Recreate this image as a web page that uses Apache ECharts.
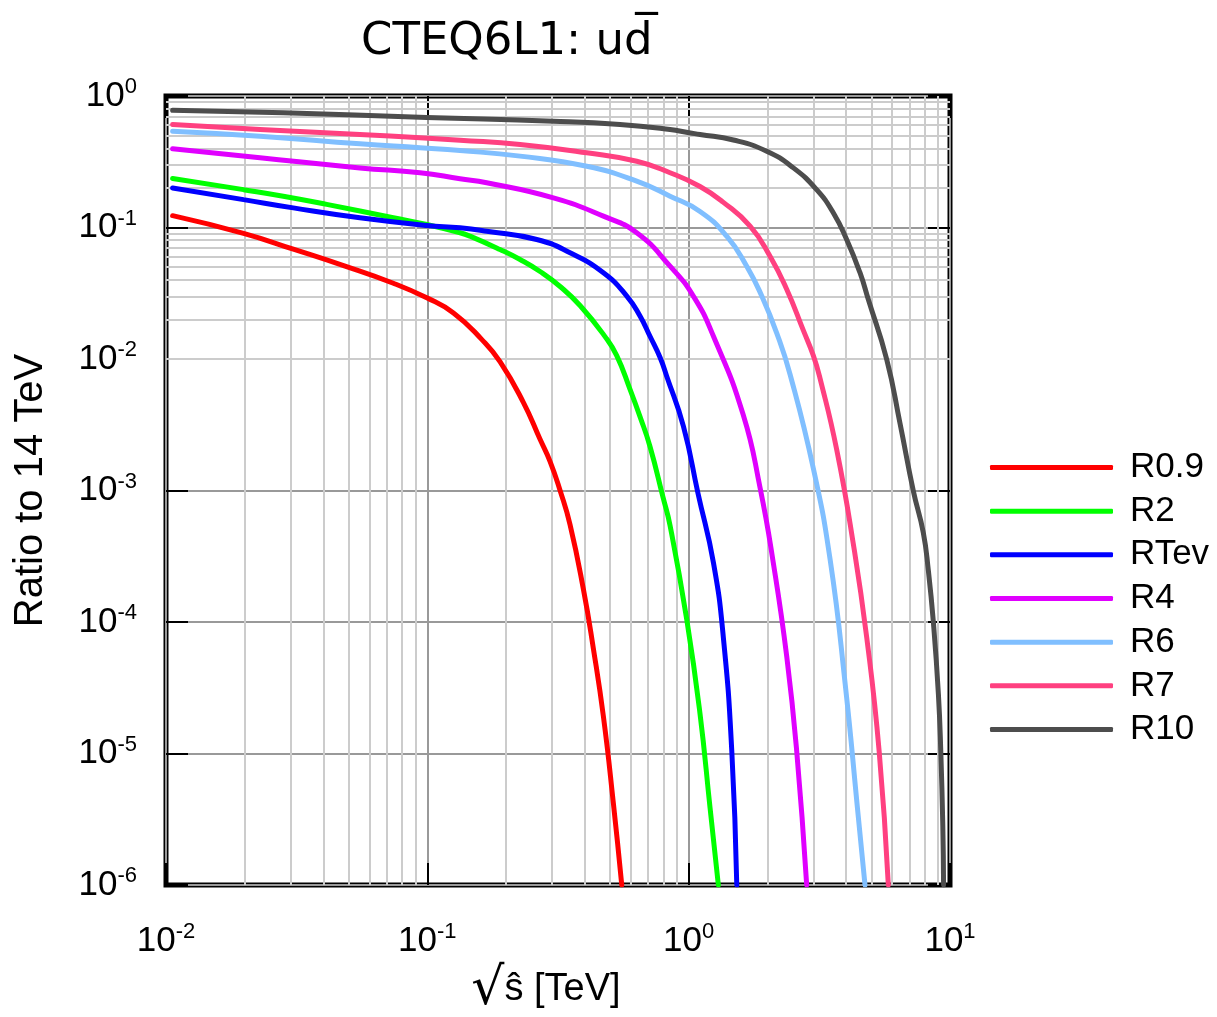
<!DOCTYPE html>
<html><head><meta charset="utf-8">
<script src="https://cdn.jsdelivr.net/npm/echarts@6/dist/echarts.min.js"></script>
<style>html,body{margin:0;padding:0;background:#fff}#c{width:1217px;height:1017px}</style>
</head><body><div id="c"></div>
<script>
// ---- data (x = sqrt(s-hat) in TeV, y = ratio to 14 TeV) ----
const seriesNames = ['R0.9', 'R2', 'RTev', 'R4', 'R6', 'R7', 'R10'];
const seriesColors = ['#ff0000', '#00ff00', '#0000ff', '#e000ff', '#80bfff', '#ff4080', '#4d4d4d'];

const xR09 = [0.0106, 0.0198, 0.0307, 0.0478, 0.0741, 0.0995, 0.1259, 0.1614, 0.1897, 0.233, 0.270, 0.295, 0.3221, 0.3516, 0.3954, 0.4317, 0.4718, 0.5152, 0.5546];
const yR09 = [0.123, 0.0902, 0.0684, 0.0513, 0.0377, 0.0292, 0.0224, 0.0141, 0.00955, 0.00468, 0.00245, 0.00166, 0.001, 0.00055, 0.000178, 6.31e-5, 1.91e-5, 4.17e-6, 1.0e-6];

const xR2 = [0.0106, 0.0198, 0.0281, 0.0412, 0.0741, 0.0995, 0.1334, 0.1456, 0.1897, 0.2264, 0.270, 0.3221, 0.384, 0.4787, 0.5306, 0.597, 0.6513, 0.7112, 0.798, 0.8487, 0.9837, 1.105, 1.207, 1.299];
const yR2 = [0.236, 0.194, 0.173, 0.150, 0.1186, 0.1054, 0.0912, 0.0859, 0.068, 0.0571, 0.0463, 0.0356, 0.0255, 0.0148, 0.0106, 0.00586, 0.00365, 0.00216, 0.000885, 0.000542, 0.000104, 2.01e-5, 3.88e-6, 1.0e-6];

const xRTev = [0.0106, 0.0198, 0.0307, 0.0552, 0.0995, 0.1334, 0.1687, 0.2622, 0.3516, 0.4718, 0.5798, 0.6513, 0.7112, 0.7774, 0.8241, 0.955, 1.086, 1.244, 1.358, 1.462, 1.528];
const yRTev = [0.200, 0.163, 0.141, 0.1186, 0.1036, 0.0995, 0.0937, 0.0811, 0.0642, 0.0453, 0.0301, 0.0212, 0.0149, 0.01026, 0.0074, 0.00307, 0.000949, 0.000282, 7.56e-5, 1.05e-5, 1.0e-6];

const xR4 = [0.0106, 0.0229, 0.0552, 0.0938, 0.1334, 0.1687, 0.3036, 0.4718, 0.6327, 0.8487, 1.042, 1.244, 1.616, 1.876, 2.108, 2.374, 2.590, 2.829];
const yR4 = [0.397, 0.339, 0.284, 0.261, 0.235, 0.219, 0.168, 0.122, 0.0912, 0.0508, 0.0301, 0.0149, 0.00378, 0.00105, 0.000282, 5.43e-5, 1.05e-5, 1.0e-6];

const xR6 = [0.0106, 0.0229, 0.0552, 0.0938, 0.1334, 0.2264, 0.4074, 0.6327, 0.8487, 1.105, 1.398, 1.668, 1.910, 2.171, 2.444, 3.000, 3.477, 3.969, 4.449, 4.729];
const yR6 = [0.540, 0.495, 0.433, 0.404, 0.385, 0.349, 0.292, 0.225, 0.173, 0.1324, 0.0859, 0.0508, 0.0297, 0.0158, 0.00762, 0.00147, 0.000299, 3.41e-5, 3.44e-6, 1.0e-6];

const xR7 = [0.0106, 0.0229, 0.0552, 0.0938, 0.1334, 0.2264, 0.4074, 0.6327, 0.8487, 1.105, 1.354, 1.718, 2.048, 2.374, 2.747, 3.000, 3.182, 3.686, 4.266, 4.804, 5.355, 5.808];
const yR7 = [0.607, 0.556, 0.510, 0.481, 0.461, 0.428, 0.370, 0.319, 0.261, 0.205, 0.156, 0.1023, 0.0605, 0.0338, 0.0165, 0.0106, 0.00713, 0.00204, 0.000393, 7.56e-5, 1.05e-5, 1.0e-6];

const xR10 = [0.0106, 0.0281, 0.0995, 0.3036, 0.5461, 0.8487, 1.0035, 1.105, 1.483, 1.989, 2.517, 3.089, 3.580, 4.023, 4.525, 4.870, 5.728, 6.439, 7.243, 7.902, 8.260, 8.636, 9.030, 9.226, 9.386, 9.45];
const yR10 = [0.780, 0.745, 0.686, 0.643, 0.607, 0.556, 0.525, 0.510, 0.463, 0.380, 0.284, 0.194, 0.129, 0.0811, 0.0453, 0.0283, 0.0099, 0.00323, 0.000988, 0.00048, 0.000248, 0.0001, 2.81e-5, 1.0e-5, 2.81e-6, 1.0e-6];

// axis ranges and gridline values
const xMin = 0.01, xMax = 10;
const yMin = 1e-6, yMax = 1;
const minorMultipliers = [2, 3, 4, 5, 6, 7, 8, 9];
const xDecades = [0.01, 0.1, 1];
const yDecades = [1e-6, 1e-5, 1e-4, 1e-3, 1e-2, 1e-1];

const titleText = 'CTEQ6L1: ud\u0305';
const xTitleRoot = '\u221A';
const xTitleRest = 's\u0302 [TeV]';
const yTitle = 'Ratio to 14 TeV';

// ---- build options ----
const xs = [xR09, xR2, xRTev, xR4, xR6, xR7, xR10];
const ys = [yR09, yR2, yRTev, yR4, yR6, yR7, yR10];
const FONT = '"Liberation Sans", Arial, Helvetica, sans-serif';

function pairs(a, b) { return a.map((v, i) => [v, b[i]]); }

const minorLines = [];
xDecades.forEach(d => minorMultipliers.forEach(m => minorLines.push({ xAxis: +(d * m).toPrecision(6) })));
yDecades.forEach(d => minorMultipliers.forEach(m => minorLines.push({ yAxis: +(d * m).toPrecision(6) })));

function expLabel(v) {
  const e = Math.round(Math.log10(v));
  return '{b|10}{s|' + e + '}';
}
const labelRich = {
  b: { fontSize: 35, fontFamily: FONT, color: '#000', lineHeight: 40 },
  s: { fontSize: 22, fontFamily: FONT, color: '#000', lineHeight: 26, verticalAlign: 'top' }
};
const tickStyle = { show: true, inside: true, length: 22, lineStyle: { color: '#000', width: 2 } };

const series = seriesNames.map((n, i) => ({
  type: 'line', name: n, data: pairs(xs[i], ys[i]),
  symbol: 'none', smooth: 0.5, z: 3, clip: true,
  lineStyle: { color: seriesColors[i], width: 5, cap: 'round', join: 'round' },
  itemStyle: { color: seriesColors[i] }
}));
series.unshift({
  type: 'line', name: '_minor', data: [], silent: true, z: 1,
  markLine: {
    silent: true, symbol: ['none', 'none'], animation: false, z: 1,
    label: { show: false },
    lineStyle: { color: '#cccccc', width: 2, type: 'solid' },
    emphasis: { disabled: true },
    data: minorLines
  }
});

const option = {
  animation: false,
  backgroundColor: '#fff',
  title: {
    text: titleText, left: 356, top: 15,
    textStyle: { fontFamily: '"DejaVu Sans", sans-serif', fontSize: 45, fontWeight: 'normal', color: '#000' }
  },
  legend: {
    orient: 'vertical', left: 990, top: 450, padding: 0,
    icon: 'roundRect',
    itemWidth: 123, itemHeight: 5, itemGap: 8.67,
    data: seriesNames,
    textStyle: { fontFamily: FONT, fontSize: 35, color: '#000', lineHeight: 34, padding: [0, 0, 0, 12] }
  },
  grid: {
    left: 166, top: 96, right: 267, bottom: 132, show: true,
    borderColor: '#000', borderWidth: 5, containLabel: false, outerBoundsMode: 'none'
  },
  xAxis: [
    {
      type: 'log', logBase: 10, min: xMin, max: xMax, position: 'bottom',
      name: '{r|' + xTitleRoot + '}{t|' + xTitleRest + '}', nameLocation: 'middle', nameGap: 80,
      nameTextStyle: {
        padding: [0, 24, 0, 0],
        rich: {
          r: { fontFamily: '"DejaVu Sans", sans-serif', fontSize: 52, color: '#000', lineHeight: 50 },
          t: { fontFamily: FONT, fontSize: 38, color: '#000', lineHeight: 50 }
        }
      },
      axisLine: { show: false }, axisTick: tickStyle,
      axisLabel: { formatter: expLabel, rich: labelRich, margin: 36, showMinLabel: true, showMaxLabel: true },
      splitLine: { show: true, lineStyle: { color: '#999999', width: 2 } }
    },
    {
      type: 'log', logBase: 10, min: xMin, max: xMax, position: 'top',
      axisLine: { show: false }, axisTick: tickStyle, axisLabel: { show: false }, splitLine: { show: false }
    }
  ],
  yAxis: [
    {
      type: 'log', logBase: 10, min: yMin, max: yMax, position: 'left',
      name: yTitle, nameLocation: 'middle', nameGap: 115,
      nameTextStyle: { fontFamily: FONT, fontSize: 40, color: '#000' },
      axisLine: { show: false }, axisTick: tickStyle,
      axisLabel: { formatter: expLabel, rich: labelRich, margin: 29, showMinLabel: true, showMaxLabel: true },
      splitLine: { show: true, lineStyle: { color: '#999999', width: 2 } }
    },
    {
      type: 'log', logBase: 10, min: yMin, max: yMax, position: 'right',
      axisLine: { show: false }, axisTick: tickStyle, axisLabel: { show: false }, splitLine: { show: false }
    }
  ],
  series: series
};

const chart = echarts.init(document.getElementById('c'), null, { renderer: 'canvas' });
chart.setOption(option);
</script>
</body></html>
